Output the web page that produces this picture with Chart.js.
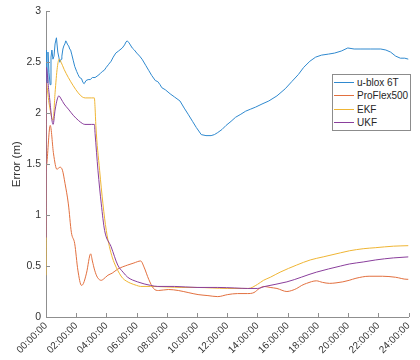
<!DOCTYPE html>
<html>
<head>
<meta charset="utf-8">
<title>Positioning error over 24 hours</title>
<script src="https://cdn.jsdelivr.net/npm/chart.js@4/dist/chart.umd.min.js"></script>
<style>
  html, body { margin: 0; padding: 0; background: #ffffff; }
  #wrap { position: relative; width: 420px; height: 360px; }
  #legend {
    position: absolute; left: 332px; top: 74px; width: 77px;
    border: 1px solid #8c8c8c; background: #ffffff; padding: 1px 0;
    font-family: "Liberation Sans", Arial, sans-serif; font-size: 10px; color: #262626;
  }
  #legend .row { display: flex; align-items: center; height: 13.3px; }
  #legend .swatch { width: 20px; height: 1px; margin-left: 1px; margin-right: 3px; }
</style>
</head>
<body>
<div id="wrap">
  <canvas id="chart" width="420" height="360"></canvas>
  <div id="legend"></div>
</div>
<script>
// Time axis labels (hours 0..24, every 2 h)
const timeLabels = ['00:00:00', '02:00:00', '04:00:00', '06:00:00', '08:00:00', '10:00:00', '12:00:00',
                    '14:00:00', '16:00:00', '18:00:00', '20:00:00', '22:00:00', '24:00:00'];
// Error axis labels (0..3 m, every 0.5 m)
const errorLabels = ['0', '0.5', '1', '1.5', '2', '2.5', '3'];

const seriesNames = ['u-blox 6T', 'ProFlex500', 'EKF', 'UKF'];

// u-blox 6T error (m)
const ubloxHours = [0, 0.02, 0.07, 0.13, 0.2, 0.27, 0.33, 0.39, 0.46, 0.53, 0.6, 0.69, 0.78, 0.85, 0.92, 1.0,
  1.05, 1.12, 1.18, 1.25, 1.31, 1.38, 1.44, 1.5, 1.57, 1.63, 1.7, 1.8, 1.9, 2.03, 2.12, 2.22, 2.35, 2.45,
  2.53, 2.65, 2.79, 2.93, 3.07, 3.25, 3.44, 3.6, 3.73, 3.85, 3.99, 4.15, 4.31, 4.45, 4.62, 4.8, 5.05, 5.2,
  5.3, 5.38, 5.5, 5.71, 5.85, 6.01, 6.2, 6.36, 6.6, 6.8, 7.0, 7.24, 7.4, 7.55, 7.67, 7.9, 8.22, 8.5, 8.87,
  9.15, 9.41, 9.7, 9.95, 10.28, 10.59, 10.93, 11.15, 11.37, 11.65, 11.92, 12.25, 12.55, 12.9, 13.22, 13.55,
  13.88, 14.3, 14.75, 15.29, 15.84, 16.27, 16.71, 17.06, 17.47, 17.85, 18.24, 18.7, 19.1, 19.55, 19.98,
  20.4, 20.85, 21.5, 22.16, 22.5, 22.81, 23.15, 23.46, 23.75, 24];
const ubloxError = [2.50, 2.62, 2.30, 2.60, 2.40, 2.28, 2.55, 2.62, 2.53, 2.56, 2.68, 2.74, 2.60, 2.55, 2.50, 2.53,
  2.56, 2.63, 2.66, 2.68, 2.71, 2.69, 2.67, 2.66, 2.63, 2.62, 2.58, 2.52, 2.46, 2.41, 2.38, 2.35, 2.34, 2.30,
  2.29, 2.32, 2.33, 2.33, 2.35, 2.35, 2.37, 2.39, 2.41, 2.42, 2.45, 2.48, 2.51, 2.55, 2.59, 2.61, 2.64, 2.67,
  2.70, 2.71, 2.69, 2.64, 2.62, 2.59, 2.56, 2.53, 2.47, 2.42, 2.37, 2.32, 2.31, 2.28, 2.25, 2.23, 2.19, 2.16, 2.12,
  2.05, 1.99, 1.92, 1.86, 1.79, 1.78, 1.78, 1.79, 1.81, 1.84, 1.88, 1.92, 1.96, 1.99, 2.02, 2.04,
  2.06, 2.09, 2.12, 2.17, 2.24, 2.31, 2.38, 2.45, 2.51, 2.55, 2.57, 2.58, 2.59, 2.61, 2.64,
  2.63, 2.63, 2.63, 2.63, 2.62, 2.60, 2.56, 2.54, 2.54, 2.53];

// ProFlex500 error (m)
const proflexHours = [0, 0.05, 0.28, 0.5, 0.72, 0.93, 1.09, 1.26, 1.48, 1.68, 1.9, 2.11, 2.35, 2.48, 2.68, 2.96,
  3.07, 3.22, 3.4, 3.66, 3.79, 4.1, 4.38, 4.75, 5.41, 5.82, 6.27, 6.49, 6.8, 7.12, 7.45, 8.1, 8.76, 9.41,
  10.07, 10.72, 11.37, 12.03, 12.68, 13.33, 13.77, 14.12, 14.42, 14.84, 15.29, 15.95, 16.27, 16.6, 16.93,
  17.25, 17.9, 18.3, 18.78, 19.2, 19.65, 20.07, 20.52, 21.39, 22.27, 23.14, 23.9, 24];
const proflexError = [1.45, 1.50, 1.88, 1.60, 1.45, 1.47, 1.44, 1.31, 1.11, 0.83, 0.72, 0.46, 0.31, 0.33, 0.43, 0.62,
  0.55, 0.46, 0.39, 0.36, 0.37, 0.41, 0.43, 0.47, 0.51, 0.53, 0.55, 0.49, 0.37, 0.28, 0.26, 0.27, 0.26, 0.24,
  0.22, 0.21, 0.20, 0.22, 0.23, 0.23, 0.24, 0.28, 0.30, 0.29, 0.28, 0.25, 0.26, 0.28, 0.31,
  0.33, 0.355, 0.34, 0.33, 0.335, 0.345, 0.36, 0.38, 0.40, 0.40, 0.39, 0.37, 0.37];

// EKF error (m)
const ekfHours = [0, 0.01, 0.2, 0.47, 0.6, 0.75, 0.87, 1.0, 1.2, 1.48, 1.8, 2.13, 2.4, 2.6, 3.0, 3.2, 3.25, 3.3,
  3.55, 3.77, 3.99, 4.2, 4.4, 4.64, 4.85, 5.08, 5.35, 5.62, 6.0, 6.27, 6.93, 8, 9, 10, 11, 12, 13.0, 13.4,
  14.0, 14.4, 14.85, 15.5, 16.6, 17.5, 18.35, 19.5, 20.1, 21.0, 21.8, 23, 24];
const ekfError = [0.41, 2.30, 2.10, 1.93, 2.20, 2.45, 2.53, 2.50, 2.43, 2.35, 2.27, 2.20, 2.16, 2.15, 2.15, 2.15, 2.05, 1.88,
  1.44, 1.11, 0.85, 0.69, 0.58, 0.49, 0.43, 0.38, 0.35, 0.33, 0.31, 0.30, 0.30, 0.295, 0.29, 0.29, 0.285, 0.28, 0.28, 0.28,
  0.32, 0.36, 0.39, 0.44, 0.51, 0.56, 0.59, 0.63, 0.65, 0.67, 0.68, 0.695, 0.70];

// UKF error (m)
const ukfHours = [0, 0.01, 0.2, 0.47, 0.6, 0.75, 0.85, 1.0, 1.2, 1.48, 1.8, 2.14, 2.4, 2.57, 3.0, 3.2, 3.25,
  3.44, 3.66, 3.88, 4.31, 4.75, 5.1, 5.41, 6.06, 6.93, 7.4, 8.5, 10.0, 11.37, 12.5, 13.33, 13.99, 14.5,
  15.95, 17.9, 19.5, 20.08, 21.0, 21.83, 23.0, 24];
const ukfError = [0.78, 2.45, 2.20, 1.89, 2.03, 2.14, 2.17, 2.14, 2.09, 2.04, 1.98, 1.93, 1.90, 1.89, 1.89, 1.89, 1.80,
  1.44, 1.11, 0.85, 0.69, 0.51, 0.44, 0.39, 0.345, 0.31, 0.30, 0.30, 0.29, 0.29, 0.285, 0.28, 0.28, 0.30,
  0.345, 0.44, 0.50, 0.52, 0.54, 0.56, 0.58, 0.59];

const seriesColors = ['#2f89cf', '#e2703f', '#efb534', '#8a3f9c'];
const axisColor = '#8f8f8f';
const textColor = '#333333';
const fontFamily = '"Liberation Sans", Arial, Helvetica, sans-serif';

function points(hours, values) {
  return hours.map((h, i) => ({ x: h, y: values[i] }));
}

// Draws short tick marks pointing into the plot area on both axes
const innerTicks = {
  id: 'innerTicks',
  afterDatasetsDraw(chart) {
    const { ctx, chartArea, scales } = chart;
    ctx.save();
    ctx.strokeStyle = axisColor;
    ctx.lineWidth = 1;
    ctx.beginPath();
    scales.x.ticks.forEach(t => {
      const px = Math.round(scales.x.getPixelForValue(t.value)) + 0.5;
      ctx.moveTo(px, chartArea.bottom);
      ctx.lineTo(px, chartArea.bottom - 4);
    });
    scales.y.ticks.forEach(t => {
      const py = Math.round(scales.y.getPixelForValue(t.value)) + 0.5;
      ctx.moveTo(chartArea.left, py);
      ctx.lineTo(chartArea.left + 4, py);
    });
    ctx.stroke();
    ctx.restore();
  }
};

const seriesData = [
  points(ubloxHours, ubloxError),
  points(proflexHours, proflexError),
  points(ekfHours, ekfError),
  points(ukfHours, ukfError)
];

const chart = new Chart(document.getElementById('chart'), {
  type: 'line',
  data: {
    datasets: seriesNames.map((name, i) => ({
      label: name,
      data: seriesData[i],
      borderColor: seriesColors[i],
      backgroundColor: seriesColors[i],
      borderWidth: 1,
      pointRadius: 0,
      fill: false,
      cubicInterpolationMode: i === 0 ? 'default' : 'monotone',
      tension: 0,
      order: 4 - i
    }))
  },
  options: {
    responsive: false,
    animation: false,
    devicePixelRatio: 1,
    layout: { padding: { top: 10, right: 7, left: 0, bottom: 0 } },
    plugins: { legend: { display: false }, tooltip: { enabled: false } },
    scales: {
      x: {
        type: 'linear',
        min: 0,
        max: 24,
        grid: { display: false, drawTicks: false },
        border: { display: true, color: axisColor, width: 1 },
        ticks: {
          stepSize: 2,
          autoSkip: false,
          minRotation: 45,
          maxRotation: 45,
          padding: 3,
          color: textColor,
          font: { family: fontFamily, size: 10 },
          callback: (value, index) => timeLabels[index]
        },
        afterFit: scale => { scale.height = 43; }
      },
      y: {
        min: 0,
        max: 3,
        grid: { display: false, drawTicks: false },
        border: { display: true, color: axisColor, width: 1 },
        ticks: {
          stepSize: 0.5,
          padding: 5,
          color: textColor,
          font: { family: fontFamily, size: 10.5 },
          callback: (value, index) => errorLabels[index]
        },
        title: {
          display: true,
          text: 'Error (m)',
          color: textColor,
          font: { family: fontFamily, size: 11.5 },
          padding: { top: 10, bottom: 0 }
        },
        afterFit: scale => { scale.width = 46; }
      }
    }
  },
  plugins: [innerTicks]
});

// Legend boxed inside the plot area, built from the chart's datasets
const legendEl = document.getElementById('legend');
chart.data.datasets.forEach(ds => {
  const row = document.createElement('div');
  row.className = 'row';
  const sw = document.createElement('span');
  sw.className = 'swatch';
  sw.style.backgroundColor = ds.borderColor;
  const label = document.createElement('span');
  label.textContent = ds.label;
  row.appendChild(sw);
  row.appendChild(label);
  legendEl.appendChild(row);
});
</script>
</body>
</html>
